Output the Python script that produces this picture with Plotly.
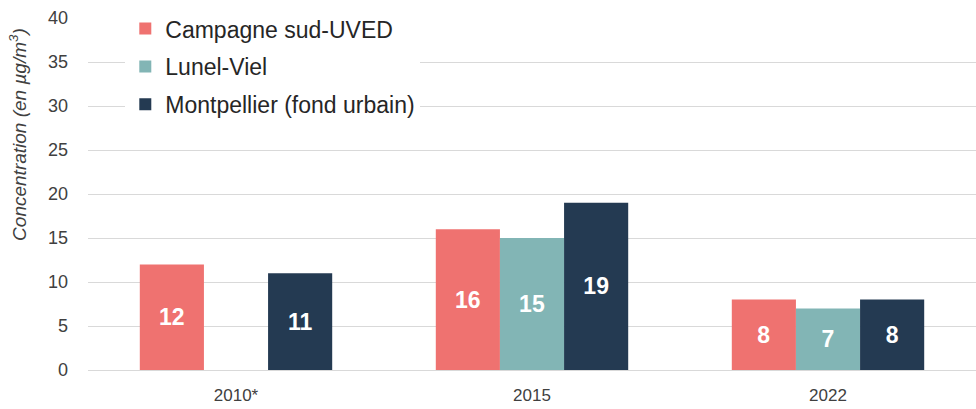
import plotly.graph_objects as go

categories = ["2010*", "2015", "2022"]
series_names = ["Campagne sud-UVED", "Lunel-Viel", "Montpellier (fond urbain)"]
campagne = [12, 16, 8]
lunel = [None, 15, 7]
montpellier = [11, 19, 8]
colors = ["#EF7270", "#82B5B5", "#243A52"]
y_ticks = [0, 5, 10, 15, 20, 25, 30, 35, 40]

FONT = "Liberation Sans Narrow, Arial Narrow, Liberation Sans, Arial, sans-serif"

fig = go.Figure()
for i, (name, vals) in enumerate(zip(series_names, [campagne, lunel, montpellier])):
    fig.add_trace(go.Bar(
        x=categories, y=vals, name=name,
        marker=dict(color=colors[i], line=dict(width=0)),
        text=[("" if v is None else str(v)) for v in vals],
        textposition="inside", insidetextanchor="middle",
        textfont=dict(family=FONT, size=23, color="white", weight="bold"),
        legendgroup=f"g{i}",
    ))

fig.update_layout(
    width=976, height=409,
    margin=dict(l=88, r=0, t=18, b=39, autoexpand=False),
    paper_bgcolor="white", plot_bgcolor="white",
    barmode="group", bargap=0.35, bargroupgap=0,
    font=dict(family=FONT, color="#404040"),
    showlegend=True,
    legend=dict(
        x=0.042, y=1.031, xanchor="left", yanchor="top",
        bgcolor="white", font=dict(family=FONT, size=23, color="#262626"),
        tracegroupgap=5, traceorder="grouped",
    ),
    xaxis=dict(
        tickfont=dict(family=FONT, size=17, color="#404040"),
        showgrid=False, showline=True, linecolor="#D9D9D9", linewidth=1,
        ticks="", ticklabelstandoff=10, automargin=False,
    ),
    yaxis=dict(
        range=[0, 40], tickvals=y_ticks,
        tickfont=dict(family=FONT, size=18, color="#404040"),
        showgrid=True, gridcolor="#D9D9D9", gridwidth=1,
        zeroline=False, showline=False, ticks="",
        ticklabelstandoff=19, automargin=False,
    ),
    annotations=[dict(
        text="<i>Concentration (en µg/m<sup>3</sup>)</i>",
        textangle=-90, xref="paper", yref="paper",
        x=-0.0788, y=0.668, xanchor="center", yanchor="middle",
        showarrow=False, font=dict(family=FONT, size=19, color="#404040"),
    )],
)

fig.write_html(
    "out.html",
    config={"displayModeBar": False},
    post_script="document.body.style.margin='0';document.body.style.padding='0';",
)
